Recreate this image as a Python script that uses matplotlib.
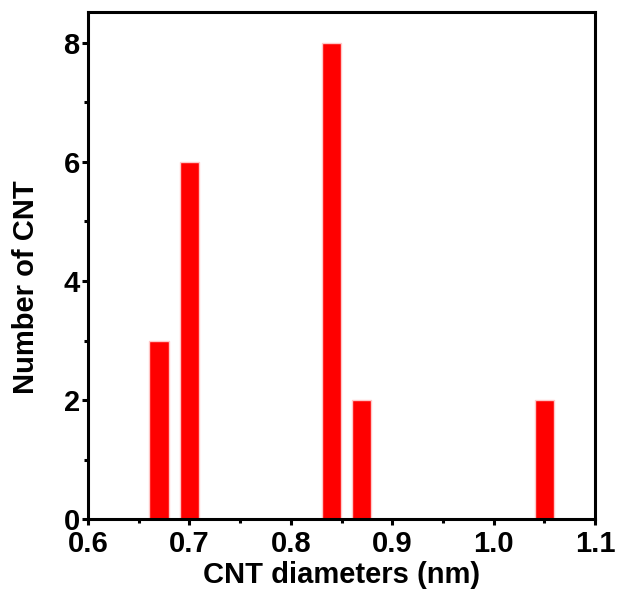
import numpy as np
import matplotlib
matplotlib.use('Agg')
import matplotlib.pyplot as plt
from matplotlib.ticker import MultipleLocator

# Données : diamètres des CNT et nombre de CNT
diametres = [0.67, 0.70, 0.84, 0.87, 1.05]
nombre = [3, 6, 8, 2, 2]
largeur = 0.019

plt.rcParams['font.family'] = ['Liberation Sans', 'DejaVu Sans']
plt.rcParams['font.weight'] = 'bold'

fig = plt.figure(figsize=(6.18, 6.01), dpi=100)
ax = fig.add_axes([0.1424, 0.1364, 0.8204, 0.8436])

ax.bar(diametres, nombre, width=largeur, color='#ff0000',
       edgecolor='#ffc8c8', linewidth=1.0)

ax.set_xlim(0.6, 1.1)
ax.set_ylim(0, 8.52)
ax.xaxis.set_minor_locator(MultipleLocator(0.05))
ax.yaxis.set_major_locator(MultipleLocator(2))
ax.yaxis.set_minor_locator(MultipleLocator(1))
ax.set_xticks([0.6, 0.7, 0.8, 0.9, 1.0, 1.1])
ax.set_xticklabels(['0.6', '0.7', '0.8', '0.9', '1.0', '1.1'])

for s in ax.spines.values():
    s.set_linewidth(2.2)
ax.tick_params(which='major', direction='out', length=4, width=2.2,
               labelsize=21)
ax.tick_params(axis='x', which='major', pad=4)
ax.tick_params(axis='y', which='major', pad=2)
ax.tick_params(which='minor', direction='out', length=3, width=2.2)
for lab in ax.get_xticklabels() + ax.get_yticklabels():
    lab.set_fontweight('bold')

ax.set_xlabel('CNT diameters (nm)', fontsize=21, fontweight='bold', labelpad=2)
ax.set_ylabel('Number of CNT', fontsize=21, fontweight='bold')
ax.yaxis.set_label_coords(-0.095, 0.457)

fig.savefig('out.png', dpi=100)
